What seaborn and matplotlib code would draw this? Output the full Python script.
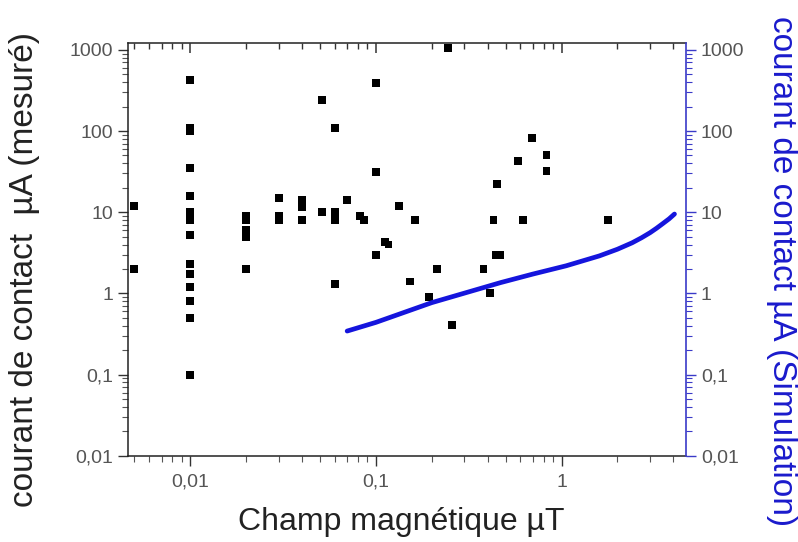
import numpy as np
import pandas as pd
import matplotlib
matplotlib.use("Agg")
import matplotlib.pyplot as plt
from matplotlib.ticker import FixedLocator, FixedFormatter, LogLocator, NullFormatter
import seaborn as sns

# measured contact current (black squares)
champ_mesure = [0.005, 0.005,
                0.01, 0.01, 0.01, 0.01, 0.01, 0.01, 0.01, 0.01, 0.01, 0.01, 0.01, 0.01, 0.01, 0.01, 0.01,
                0.02, 0.02, 0.02, 0.02, 0.02,
                0.03, 0.03, 0.03,
                0.04, 0.04, 0.04,
                0.051, 0.051,
                0.06, 0.06, 0.06, 0.06,
                0.07, 0.082, 0.086,
                0.1, 0.1, 0.1,
                0.112, 0.117, 0.133, 0.153, 0.163, 0.194, 0.214, 0.245, 0.258,
                0.38, 0.41, 0.43, 0.445, 0.467, 0.45, 0.58, 0.62, 0.69, 0.83, 0.83, 1.78]
courant_mesure = [12, 2,
                  420, 108, 100, 35, 16, 10, 9, 8, 5.2, 2.3, 1.75, 1.2, 0.81, 0.5, 0.1,
                  9, 8, 6, 5, 2,
                  15, 9, 8,
                  14, 11.5, 8,
                  240, 10,
                  110, 10, 8, 1.3,
                  14, 9, 8,
                  390, 31, 3.0,
                  4.3, 4.0, 12, 1.4, 8, 0.91, 2.0, 1050, 0.41,
                  2.0, 1.0, 8, 3.0, 3.0, 22, 43, 8, 82, 51, 32, 8]

# simulated contact current (blue curve)
champ_sim = [0.07, 0.1, 0.2, 0.47, 0.7, 1.06, 1.6, 2.0, 2.4, 2.7, 3.0, 3.25, 3.5, 3.8, 4.06]
courant_sim = [0.344, 0.44, 0.77, 1.36, 1.73, 2.19, 2.9, 3.5, 4.2, 4.85, 5.6, 6.35, 7.2, 8.3, 9.5]

x_ticks = [0.01, 0.1, 1]
x_labels = ["0,01", "0,1", "1"]
y_ticks = [0.01, 0.1, 1, 10, 100, 1000]
y_labels = ["0,01", "0,1", "1", "10", "100", "1000"]

mesure = pd.DataFrame({"champ": champ_mesure, "courant": courant_mesure})
sim = pd.DataFrame({"champ": champ_sim, "courant": courant_sim})

sns.set_style("ticks")
plt.rcParams["font.family"] = ["Liberation Sans", "DejaVu Sans"]

fig = plt.figure(figsize=(7.98, 5.42), dpi=100)
ax = fig.add_axes([0.160, 0.159, 0.700, 0.762])
ax2 = ax.twinx()

sns.scatterplot(data=mesure, x="champ", y="courant", marker="s", s=32,
                color="black", edgecolor="none", ax=ax)
sns.lineplot(data=sim, x="champ", y="courant", color="#1515dd", linewidth=3.4,
             ax=ax2, sort=True)

minor = np.arange(2, 10)
for a in (ax, ax2):
    a.set_xscale("log")
    a.set_yscale("log")
    a.set_xlim(0.0046, 4.7)
    a.set_ylim(0.01, 1220)
    a.yaxis.set_major_locator(FixedLocator(y_ticks))
    a.yaxis.set_major_formatter(FixedFormatter(y_labels))
    a.yaxis.set_minor_locator(LogLocator(base=10, subs=minor, numticks=20))
    a.yaxis.set_minor_formatter(NullFormatter())

ax.xaxis.set_major_locator(FixedLocator(x_ticks))
ax.xaxis.set_major_formatter(FixedFormatter(x_labels))
ax.xaxis.set_minor_locator(LogLocator(base=10, subs=minor, numticks=20))
ax.xaxis.set_minor_formatter(NullFormatter())

tick_grey = "#555555"
ax.tick_params(axis="both", which="major", length=7, width=1, labelsize=14,
               labelcolor=tick_grey, color="#333333", direction="out")
ax.tick_params(axis="both", which="minor", length=4, width=0.8, color="#555555", direction="out")
ax.tick_params(axis="x", pad=6)

# inward ticks along the top spine (x axis of the twin)
ax2.xaxis.set_visible(True)
ax2.set_xlabel("")
ax2.tick_params(axis="x", which="both", bottom=False, top=True, labelbottom=False,
                labeltop=False, direction="in", color="#333333")
ax2.tick_params(axis="x", which="major", length=7, width=1.1)
ax2.tick_params(axis="x", which="minor", length=4, width=1)

blue_axis = "#3a3ac8"
ax2.spines["right"].set_color(blue_axis)
ax2.spines["right"].set_linewidth(1.2)
ax2.tick_params(axis="y", which="major", length=7, width=1, labelsize=14,
                labelcolor=tick_grey, color=blue_axis, direction="out")
ax2.tick_params(axis="y", which="minor", length=4, width=0.8, color=blue_axis, direction="out")

for s in ("left", "bottom", "top"):
    ax.spines[s].set_color("#222222")
    ax.spines[s].set_linewidth(1.1)
ax.spines["right"].set_visible(False)
for s in ("left", "bottom", "top"):
    ax2.spines[s].set_visible(False)

ax.set_xlabel("Champ magnétique µT", fontsize=23, color="#222222",
              ha="center", va="center")
ax.xaxis.set_label_coords(0.489, -0.160)
ax.set_ylabel("courant de contact  µA (mesuré)", fontsize=24, color="#222222",
              ha="center", va="center", rotation_mode="anchor")
ax.yaxis.set_label_coords(-0.185, 0.45)
ax2.set_ylabel("courant de contact µA (Simulation)", fontsize=24, color="#1a1acc",
               rotation=270, ha="center", va="center", rotation_mode="anchor")
ax2.yaxis.set_label_coords(1.170, 0.448)

fig.savefig("out.png", dpi=100)
